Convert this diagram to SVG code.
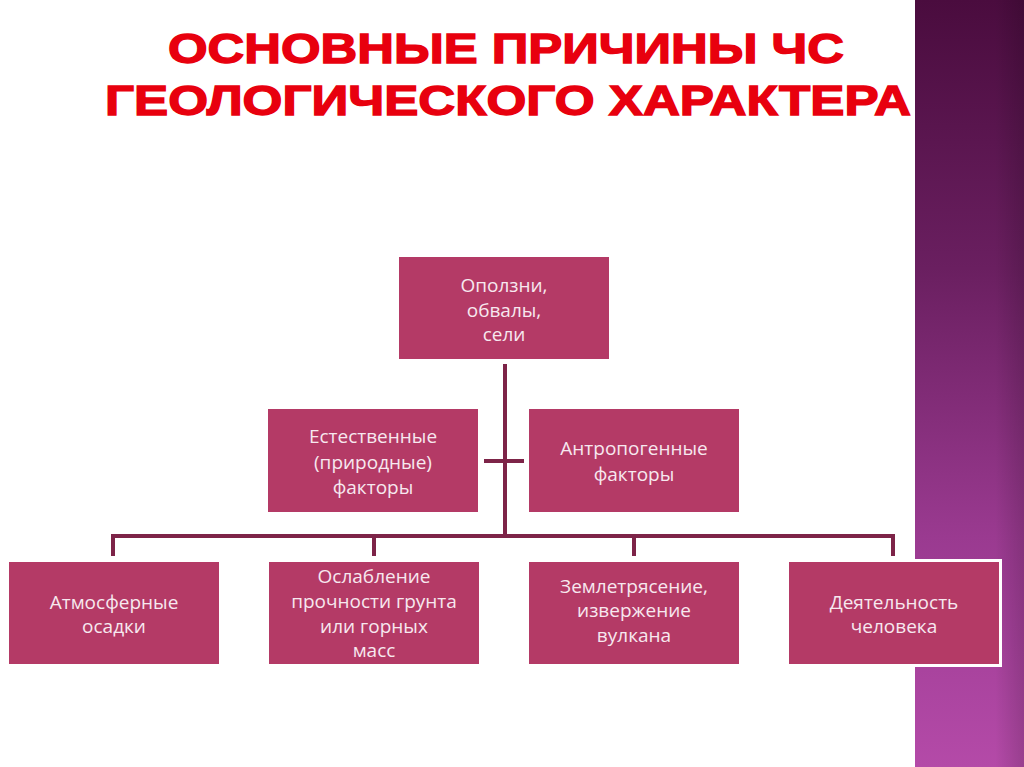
<svg xmlns="http://www.w3.org/2000/svg" width="1024" height="767" viewBox="0 0 1024 767">
<defs>
<linearGradient id="band" x1="0" y1="0" x2="0" y2="1">
<stop offset="0" stop-color="#4a0c3e"/>
<stop offset="0.35" stop-color="#6a1f60"/>
<stop offset="0.7" stop-color="#9a3a90"/>
<stop offset="1" stop-color="#b44aa8"/>
</linearGradient>
<linearGradient id="edge" x1="0" y1="0" x2="1" y2="0">
<stop offset="0" stop-color="#000" stop-opacity="0"/>
<stop offset="1" stop-color="#000" stop-opacity="0.15"/>
</linearGradient>
<style>
.box{fill:#b43a66;}
.lbl{font-family:"Open Sans","Noto Sans","Liberation Sans",sans-serif;font-size:19px;fill:#f7e8ef;text-anchor:middle;}
.conn{stroke:#7d2448;stroke-width:4;fill:none;}
.title{font-family:"Liberation Sans","Arial",sans-serif;font-weight:bold;font-size:43px;fill:#e8000e;stroke:#e8000e;stroke-width:1.4;text-anchor:middle;}
</style>
</defs>
<rect width="1024" height="767" fill="#ffffff"/>
<rect x="915" y="0" width="109" height="767" fill="url(#band)"/>
<rect x="995" y="0" width="29" height="767" fill="url(#edge)"/>

<g id="title">
<text class="title" x="506" y="63" textLength="676" lengthAdjust="spacingAndGlyphs">ОСНОВНЫЕ ПРИЧИНЫ ЧС</text>
<text class="title" x="508" y="115" textLength="806" lengthAdjust="spacingAndGlyphs">ГЕОЛОГИЧЕСКОГО ХАРАКТЕРА</text>
</g>

<g id="connectors">
<path class="conn" d="M505 364 V536"/>
<path class="conn" d="M484 461 H524"/>
<path class="conn" d="M113 556 V536 H893 V556"/>
<path class="conn" d="M374 536 V556"/>
<path class="conn" d="M634 536 V556"/>
</g>

<g id="node-top">
<rect class="box" x="399" y="257" width="210" height="102"/>
<text class="lbl" x="504" y="292">Оползни,</text>
<text class="lbl" x="504" y="317">обвалы,</text>
<text class="lbl" x="504" y="341">сели</text>
</g>

<g id="node-natural">
<rect class="box" x="268" y="409" width="210" height="103"/>
<text class="lbl" x="373" y="443">Естественные</text>
<text class="lbl" x="373" y="469">(природные)</text>
<text class="lbl" x="373" y="494">факторы</text>
</g>

<g id="node-anthropogenic">
<rect class="box" x="529" y="409" width="210" height="103"/>
<text class="lbl" x="634" y="455">Антропогенные</text>
<text class="lbl" x="634" y="481">факторы</text>
</g>

<g id="node-precip">
<rect class="box" x="9" y="562" width="210" height="102"/>
<text class="lbl" x="114" y="609">Атмосферные</text>
<text class="lbl" x="114" y="633">осадки</text>
</g>

<g id="node-weakening">
<rect class="box" x="269" y="562" width="210" height="102"/>
<text class="lbl" x="374" y="583">Ослабление</text>
<text class="lbl" x="374" y="608">прочности грунта</text>
<text class="lbl" x="374" y="633">или горных</text>
<text class="lbl" x="374" y="657">масс</text>
</g>

<g id="node-earthquake">
<rect class="box" x="529" y="562" width="210" height="102"/>
<text class="lbl" x="634" y="593">Землетрясение,</text>
<text class="lbl" x="634" y="617">извержение</text>
<text class="lbl" x="634" y="642">вулкана</text>
</g>

<g id="node-human">
<rect x="786" y="559" width="216" height="108" fill="#ffffff"/>
<rect class="box" x="789" y="562" width="210" height="102"/>
<text class="lbl" x="894" y="609">Деятельность</text>
<text class="lbl" x="894" y="633">человека</text>
</g>
</svg>
